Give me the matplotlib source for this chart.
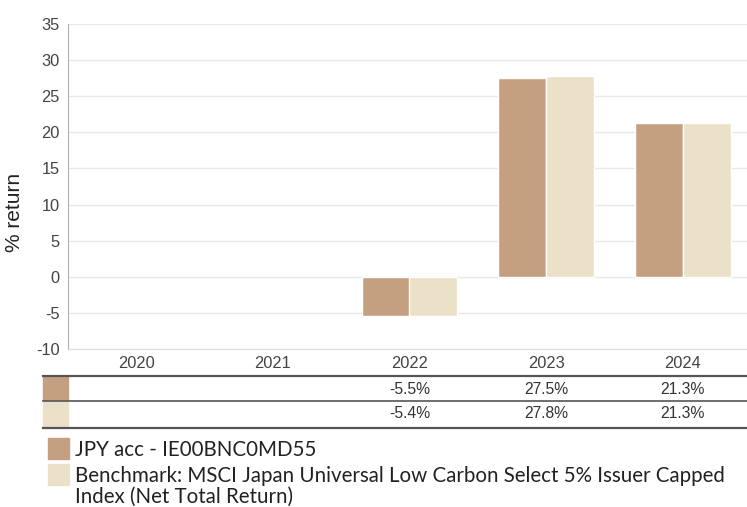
import matplotlib.pyplot as plt
import matplotlib.transforms as mtransforms
import numpy as np

years = ['2020', '2021', '2022', '2023', '2024']
fund = [np.nan, np.nan, -5.5, 27.5, 21.3]
bench = [np.nan, np.nan, -5.4, 27.8, 21.3]
fund_lbl = ['', '', '-5.5%', '27.5%', '21.3%']
bench_lbl = ['', '', '-5.4%', '27.8%', '21.3%']
fund_name = 'JPY acc - IE00BNC0MD55'
bench_name = ('Benchmark: MSCI Japan Universal Low Carbon Select 5% Issuer Capped\n'
              'Index (Net Total Return)')

c_fund = '#c4a080'
c_bench = '#ebe1c8'
W, H = 747, 507

plt.rcParams['font.family'] = ['Liberation Sans', 'DejaVu Sans']
plt.rcParams['axes.unicode_minus'] = False
fig = plt.figure(figsize=(W / 100, H / 100), dpi=100)


def fy(py):
    return 1 - py / H


# axes in pixel coords: left 68, right 751, top 24, bottom 349
ax = fig.add_axes([68 / W, fy(349), (751 - 68) / W, (349 - 24) / H])

x = np.arange(len(years))
bw = 0.35
ax.bar(x - bw / 2, fund, bw, color=c_fund, edgecolor='white', linewidth=1, zorder=3)
ax.bar(x + bw / 2, bench, bw, color=c_bench, edgecolor='white', linewidth=1, zorder=3)

ax.set_ylim(-10, 35)
ax.set_yticks(range(-10, 36, 5))
ax.set_xlim(-0.5, 4.5)
ax.set_xticks(x)
ax.set_xticklabels(years)
ax.grid(axis='y', color='#e8e8e8', linewidth=1, zorder=0)
for s in ['top', 'right']:
    ax.spines[s].set_visible(False)
ax.spines['left'].set_color('#b0b0b0')
ax.spines['bottom'].set_color('#dddddd')
ax.tick_params(axis='both', length=0, labelsize=11.8, colors='#444444')
ax.tick_params(axis='y', pad=6)
ax.tick_params(axis='x', pad=5)
fig.text(15 / W, fy(212), '% return', rotation=90, ha='center', va='center',
         fontsize=15, color='#222222')

# table below the chart
trans = mtransforms.blended_transform_factory(ax.transData, fig.transFigure)
for py, lw in [(376, 1.6), (401, 1.2), (428, 1.6)]:
    fig.add_artist(plt.Line2D([43 / W, 1], [fy(py), fy(py)], color='#555555', linewidth=lw))
fig.add_artist(plt.Rectangle((43 / W, fy(401)), 25 / W, 25 / H, color=c_fund, transform=fig.transFigure))
fig.add_artist(plt.Rectangle((43 / W, fy(427)), 25 / W, 26 / H, color=c_bench, transform=fig.transFigure))
for i in range(len(years)):
    fig.text(x[i], fy(389), fund_lbl[i], transform=trans, ha='center', va='center', fontsize=11.3, color='#333333')
    fig.text(x[i], fy(414), bench_lbl[i], transform=trans, ha='center', va='center', fontsize=11.3, color='#333333')

# legend
fig.add_artist(plt.Rectangle((48 / W, fy(459)), 21 / W, 21 / H, color=c_fund, transform=fig.transFigure))
fig.add_artist(plt.Rectangle((48 / W, fy(485)), 21 / W, 21 / H, color=c_bench, transform=fig.transFigure))
fig.text(75 / W, fy(450), fund_name, ha='left', va='center', fontsize=14.8,
         color='#222222', family=['Lato', 'DejaVu Sans'])
fig.text(75 / W, fy(486.5), bench_name, ha='left', va='center', fontsize=14.8, color='#222222',
         linespacing=1.02, family=['Lato', 'DejaVu Sans'])

fig.savefig('out.png', dpi=100)
